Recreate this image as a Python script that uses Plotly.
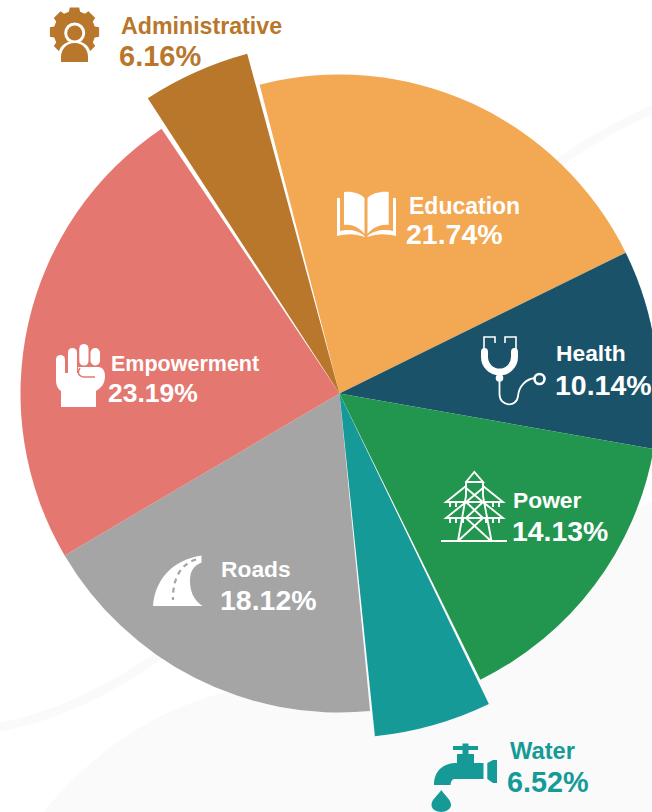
import base64, math
import plotly.graph_objects as go

# Values
sectors = ["Education", "Health", "Power", "Water", "Roads", "Empowerment", "Administrative"]
printed_percent = ["21.74%", "10.14%", "14.13%", "6.52%", "18.12%", "23.19%", "6.16%"]
colors = ["#F3A853", "#1A5369", "#22964F", "#169A98", "#A5A5A5", "#E47870", "#B8772B"]
# Slice widths as drawn in the picture, in degrees (the artwork differs slightly from the printed %)
drawn_main_deg = [78.3, 36.2, 53.8, 20.7, 65.0, 86.6, 19.4]
drawn_water_deg = 19.8
drawn_admin_deg = 17.8

W, H, OFF = 740, 812, 40
CX, CY = 339.5, 393.5
R_MAIN, R_WATER, R_ADMIN = 319, 344.5, 352
CLEAR = "rgba(0,0,0,0)"


def dom(r):
    return dict(x=[(CX + OFF - r) / W, (CX + OFF + r) / W], y=[1 - (CY + r) / H, 1 - (CY - r) / H])


def pie(values, cols, names, rotation, r):
    return go.Pie(values=values, labels=names, marker=dict(colors=cols, line=dict(width=0)), sort=False,
                  direction="clockwise", rotation=rotation, textinfo="none", hoverinfo="label",
                  domain=dom(r), showlegend=False)


main_cols = [CLEAR if s in ("Water", "Administrative") else c for s, c in zip(sectors, colors)]
fig = go.Figure()
fig.add_trace(pie(drawn_main_deg, main_cols, sectors, -14.5, R_MAIN))
fig.add_trace(pie([drawn_water_deg, 360 - drawn_water_deg], [colors[3], CLEAR], ["Water", " "], 154.3, R_WATER))
fig.add_trace(pie([drawn_admin_deg, 360 - drawn_admin_deg], [colors[6], CLEAR], ["Administrative", " "], -33.0, R_ADMIN))

label_pos = {  # name x, name y, name size, pct x, pct y, pct size, colour
    "Education": (408, 206, 23, 405, 234, 28.5, "white"),
    "Health": (555, 353, 22.8, 554, 385, 28.5, "white"),
    "Power": (512, 500, 22.8, 511, 531, 28.4, "white"),
    "Water": (509, 751, 23.7, 506, 782, 28.8, colors[3]),
    "Roads": (220, 569, 22.8, 219, 600, 28.5, "white"),
    "Empowerment": (110, 364, 21.5, 107, 393, 26.5, "white"),
    "Administrative": (120, 26, 23.2, 118, 56, 29, colors[6]),
}
annotations = []
for name, pct in zip(sectors, printed_percent):
    x1, y1, s1, x2, y2, s2, col = label_pos[name]
    for txt, x, y, size in ((name, x1, y1, s1), (pct, x2, y2, s2)):
        annotations.append(dict(text=f"<b>{txt}</b>", x=(x + OFF) / W, y=1 - y / H, xref="paper", yref="paper",
                                xanchor="left", yanchor="middle", showarrow=False, borderpad=0,
                                font=dict(family="Liberation Sans", size=size, color=col)))


def gear():
    pts = []
    n = 8
    for i in range(n):
        a = 2 * math.pi * i / n
        for da, r in ((-0.27, 21), (-0.19, 25), (0.19, 25), (0.27, 21)):
            pts.append(f"{74.5 + r * math.sin(a + da):.1f} {32 - r * math.cos(a + da):.1f}")
    return "M" + " L".join(pts) + "Z"


A = colors[6]
T = colors[3]
E = colors[5]
icons = [
    ((48, 5, 101, 64), f'''<path fill="{A}" d="{gear()}"/>
<circle cx="74.7" cy="33" r="10.5" fill="white"/><circle cx="74.7" cy="33" r="7.6" fill="{A}"/>
<path fill="white" d="M58 63V57C58 47 65 41 74.7 41S91 47 91 57V63Z"/>
<path fill="{A}" d="M61 62V57C61 49 67 43 74.7 43S88 49 88 57V62Z"/>'''),
    ((335, 189, 398, 239), '''<g fill="white">
<path d="M344 192C351 191 360 193 364.5 198V234C359 227 351 224 344 225Z"/>
<path d="M388.7 192C381.7 191 372 193 367.5 198V234C373 227 381.7 224 388.7 225Z"/>
<path d="M337 198H340V231C348 229 358 230 364.5 236V237C354 233 346 234 337 236Z"/>
<path d="M396 198H393V231C385 229 374 230 367.5 236V237C378 233 387 234 396 236Z"/></g>'''),
    ((478, 334, 549, 408), '''<g fill="none" stroke="white">
<path stroke-width="1.6" d="M495 343V337H484V352M505 343V337H516V352"/>
<path stroke-width="7" d="M484.5 352V357A15 15 0 0 0 514.5 357V352"/>
<path stroke-width="1.8" d="M499.5 378V394C499.5 407 517 408 518 396C519 386 526 379 535 378"/>
<circle cx="539.5" cy="379" r="5" stroke-width="2.6"/></g>
<circle cx="499.5" cy="378" r="3.8" fill="white"/>
<path fill="white" d="M481 352a3.5 4 0 0 1 7 0zM511 352a3.5 4 0 0 1 7 0z"/>'''),
    ((439, 469, 510, 545), '''<g fill="none" stroke="white" stroke-width="1.9">
<path d="M441 541H507"/>
<path d="M466 482L474.3 472L483 482H466V496L458 541M483 482V496L491.5 541"/>
<path d="M466 486L446 502H503L483 486"/>
<path d="M466 502L446 518H503L483 502"/>
<path d="M466 488L483 502L466 518L491 541M483 488L466 502L483 518L458 541"/>
<path d="M450 502v5M456 502v5M493 502v5M499 502v5M450 518v5M456 518v5M463 518v5M486 518v5M493 518v5M499 518v5"/></g>'''),
    ((430, 741, 500, 812), f'''<g fill="{T}">
<path d="M453 746H462.5V743.5H468.5V746H478V750H468.5V754H474V763H483.5V779H455C453 779 451 780 450.5 785H434C434 771 443 763 457 763V754H462.5V750H453Z"/>
<path d="M487.3 763L493 760H497V783H493L487.3 779Z"/>
<path d="M441.3 790C444 795 451 799 451 805C451 809 446 812 441.3 812C436 812 431.5 809 431.5 805C431.5 799 438.5 795 441.3 790Z"/></g>'''),
    ((53, 342, 108, 409), f'''<g fill="white">
<rect x="56" y="355" width="9" height="22" rx="4.5"/><rect x="68" y="348" width="9" height="29" rx="4.5"/>
<rect x="79.3" y="344" width="9.2" height="21.5" rx="4.6"/><rect x="90.5" y="348" width="9.5" height="17.5" rx="4.7"/>
<path d="M56 373H78V367H98C103 367 105 371 105 376C105 384 101 388 96 391V407H61V391C58 389 56 385 56 380Z"/></g>
<path fill="none" stroke="{E}" stroke-width="1.5" d="M80 368C77 372 78 376.5 84 377H95"/>'''),
    ((150, 553, 206, 608), f'''<path fill="white" d="M201.5 555.5C172 560 155 580 153 606H202.5C193 600 190 590 190 581C190 572 193 566 201.5 562.5Z"/>
<path fill="none" stroke="{colors[4]}" stroke-width="2.2" stroke-dasharray="5 4.5" d="M196 559.5C181 564 172.5 578 173 600"/>'''),
]

images = []
for (x0, y0, x1, y1), body in icons:
    svg = f'<svg xmlns="http://www.w3.org/2000/svg" width="{x1 - x0}" height="{y1 - y0}" viewBox="{x0} {y0} {x1 - x0} {y1 - y0}">{body}</svg>'
    src = "data:image/svg+xml;base64," + base64.b64encode(svg.encode()).decode()
    images.append(dict(source=src, xref="paper", yref="paper", x=(x0 + OFF) / W, y=1 - y0 / H,
                       sizex=(x1 - x0) / W, sizey=(y1 - y0) / H, xanchor="left", yanchor="top",
                       sizing="stretch", layer="above"))


def px(x, y):
    return f"{(x + OFF) / W:.4f},{1 - y / H:.4f}"


shapes = [
    dict(type="path", xref="paper", yref="paper", layer="below", line=dict(width=0), fillcolor="#FAFAFA",
         path=f"M{px(43, 812)} C{px(90, 755)} {px(150, 712)} {px(225, 692)} L{px(700, 480)} L{px(700, 812)} Z"),
    dict(type="path", xref="paper", yref="paper", layer="below", line=dict(color="#FAFAFA", width=9),
         path=f"M{px(-20, 730)} C{px(50, 722)} {px(110, 690)} {px(160, 655)} L{px(555, 165)} C{px(585, 145)} {px(620, 120)} {px(700, 90)}"),
]

fig.update_layout(width=W, height=H, margin=dict(l=0, r=0, t=0, b=0), paper_bgcolor="white", plot_bgcolor="white",
                  annotations=annotations, images=images, shapes=shapes, showlegend=False)

post = f"""
document.documentElement.style.overflow='hidden';
document.body.style.overflow='hidden';
document.body.style.margin='0';
var gd=document.querySelector('.plotly-graph-div');
gd.style.position='absolute'; gd.style.left='-{OFF}px'; gd.style.top='0';
"""
fig.write_html("out.html", post_script=post, config={"displayModeBar": False})
